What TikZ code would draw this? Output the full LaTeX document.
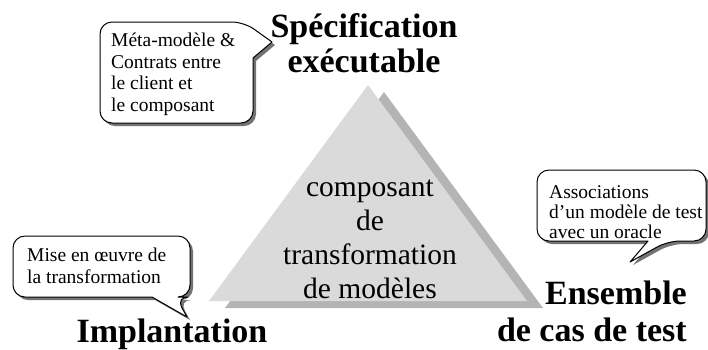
\documentclass[tikz,border=0pt]{standalone}
\usepackage{fontspec}
\setmainfont{Liberation Serif}
\usetikzlibrary{shadows}
\definecolor{trimain}{RGB}{218,218,218}
\definecolor{trishade}{RGB}{180,180,180}
\begin{document}
\begin{tikzpicture}[x=1pt,y=-1pt,
  callout/.style={draw=black, line width=1pt, fill=white, line join=round,
    drop shadow={shadow xshift=3pt, shadow yshift=-3pt, fill=black!55, opacity=1}},
  ctext/.style={font=\fontsize{19.5}{21.5}\selectfont, align=left, inner sep=0pt},
  title/.style={font=\fontsize{34}{36}\selectfont\bfseries, inner sep=0pt},
  tritext/.style={font=\fontsize{29.5}{34}\selectfont, align=center, inner sep=0pt}]
\useasboundingbox (0,0) rectangle (708,349);
% triangle
\coordinate (A) at (368,85);
\coordinate (B) at (209,301);
\coordinate (C) at (527,301);
\fill[trishade] ([shift={(16,7)}]A) -- ([shift={(16,7)}]B) -- ([shift={(16,7)}]C) -- cycle;
\fill[trimain] (A) -- (B) -- (C) -- cycle;
\node[tritext, anchor=north] (core) at (370,180) {composant\\de\\transformation\\de modèles};
% titles
\node[title, align=center, anchor=north, font=\fontsize{34}{35}\selectfont\bfseries] (spec) at (364,13) {Spécification\\exécutable};
\node[title, anchor=base] (impl) at (172,342) {Implantation};
\node[title, align=right, anchor=north east, font=\fontsize{34}{37}\selectfont\bfseries] (test) at (687,281) {Ensemble\\de cas de test};
% callout 1
\draw[callout, rounded corners=12] (100,70) |- (244,22) [sharp corners] -- (272,42) -- (253,58) [rounded corners=12] |- (100,123) -- cycle;
\node[ctext, anchor=north west] (c1) at (111,33) {Méta-modèle \&\\Contrats entre\\le client et\\le composant};
% callout 2
\draw[callout, rounded corners=12] (537,205) |- (706,170) |- (668,241) [sharp corners] -- (630,262) -- (648,241) [rounded corners=12] -| (537,205);
\node[ctext, anchor=north west, font=\fontsize{19.5}{20}\selectfont] (c2) at (549,185) {Associations\\d’un modèle de test\\avec un oracle};
% callout 3
\draw[callout, rounded corners=12] (13,265) |- (190,236) |- (176,297) [sharp corners] -- (187,317) -- (152,297) [rounded corners=12] -| (13,265);
\node[ctext, anchor=north west] (c3) at (27,248) {Mise en œuvre de\\la transformation};
\end{tikzpicture}
\end{document}
